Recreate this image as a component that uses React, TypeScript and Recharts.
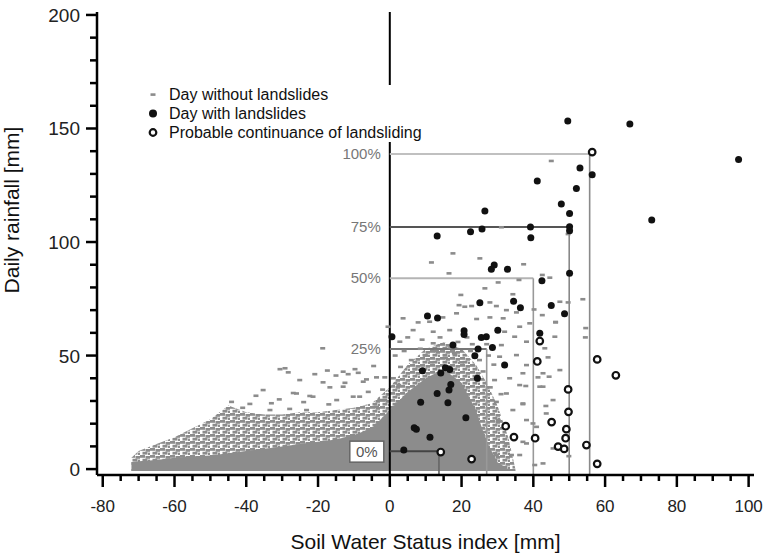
import React from "react";
import {
  ComposedChart,
  Area,
  Scatter,
  XAxis,
  YAxis,
  ReferenceLine,
  Legend,
} from "recharts";

const W = 769;
const H = 554;
const FONT = "'Liberation Sans', Arial, sans-serif";
const GRAY = "#8c8c8c";

// envelope of the dense cloud of days without landslides (x = SWSI, mm)
const cloudX = [-72, -70, -65, -60, -55, -50, -45, -40, -35, -30, -25, -20, -15, -10, -5, 0, 5, 10, 15, 20, 24, 27, 30, 33, 35];
const cloudSolidTop = [3, 3.5, 4, 5, 5.5, 6, 7, 8, 9, 10, 11, 12, 13, 15, 18, 26, 34, 40, 44, 38, 26, 12, 3, 0, 0];
const cloudSparseTop = [5, 8, 11, 14, 18, 22, 28, 25, 24, 24, 25, 25, 26, 27, 29, 36, 46, 53, 56, 53, 46, 38, 28, 14, 0];
const cloudBottom = -0.8;

// scattered days without landslides outside the dense cloud [SWSI, rainfall]
const noSlide: [number, number][] = [
  [-18.7, 53.2], [-30.6, 44], [-29.2, 44.4], [-28.3, 42.6], [-25.1, 39.2], [-20.9, 41.8], [-17.4, 43.4],
  [-15, 41.2], [-13, 42.9], [-11.6, 41.8], [-9.7, 44], [-8.8, 42.4], [-4.5, 45.4], [-1.4, 40.4], [-6.5, 39.5],
  [-3.7, 40.4], [-35.3, 34.8], [-37.3, 32.3], [-26.9, 33.5], [-26, 33.3], [-18.6, 38.2], [-16.7, 36],
  [-12.5, 38], [-7.4, 38.5], [-22.3, 32.2], [-30.8, 30.7], [-39, 28.7], [-44.1, 29.6], [-14.8, 30.4],
  [-10.2, 31.9], [-3.7, 27.4], [-1.4, 30.4], [-8.4, 31.9], [-21.4, 31.9], [-33.4, 26], [-27.9, 26.5],
  [-23.2, 26], [-2.8, 30.4], [-13, 36.3], [-33, 29], [-24, 29.5], [-17, 28.5], [-6, 34], [-41, 27],
  [45, 135.7], [31.1, 106.5], [49.7, 103.5], [17.6, 95], [11.6, 91], [25.1, 92.8], [16.5, 86.2], [37.3, 90.2],
  [30.2, 82.2], [36, 83.3], [44.6, 84.3], [42.5, 85.5], [26.5, 79.6], [19.8, 76.7], [34.3, 77], [47.4, 73.7],
  [49.7, 73.4], [53.8, 74.8], [40.2, 70.3], [42.5, 67.8], [46.2, 64.8], [46, 58.3], [19.3, 72.2], [20.9, 71.5],
  [22.8, 71.8], [27.9, 73.4], [29.7, 71.8], [32.5, 70], [3.7, 66.4], [7.9, 64.6], [11.1, 64.9], [14.8, 66.8],
  [18.6, 68.6], [24.2, 66.1], [27.9, 66.8], [31.6, 66.4], [35.3, 69], [-0.5, 62.7], [6.5, 61.2], [12.1, 60.5],
  [16.7, 61.2], [32, 60.5], [36.2, 62.7], [34.8, 58.3], [2.8, 56.1], [12.1, 55.4], [31.1, 54.6], [38.1, 56.1],
  [30.6, 49.5], [35.3, 50.2], [38.1, 45.8], [37.1, 42.2], [29.2, 39.2], [33.4, 40], [36.2, 37], [32.5, 33.3],
  [37.1, 28.9], [29.7, 29.6], [34.3, 26], [30.2, 21.6], [38.1, 21.6], [32.5, 11.3], [37.1, 12], [29.7, 6.2],
  [33.9, 6.2], [42.7, 36.3], [45.5, 30.4], [43.6, 24.5], [42.7, 2.5], [45.5, 9.1], [40.9, 18.6], [47.4, 43.6],
  [39, 64.2], [46.2, 64.6], [54.6, 62.1], [54.5, 58], [43.2, 53.2], [44.1, 49.2], [41.3, 40.4], [44.4, 40.7],
  [42.7, 42.2], [41.8, 36.3], [43.5, 27.8], [37.1, 28.6], [37.9, 36.6], [39.9, 20.1], [38.1, 11.3], [36.2, 6.2],
  [40.4, 1.8], [49.9, 5.7],
  [1.5, 50], [4, 52], [6, 48], [8.5, 53], [10, 50], [13, 52], [15.5, 49], [18, 51], [20, 47], [22.5, 52],
  [25, 48], [27.5, 50], [29, 46], [3, 45], [7, 44], [11.5, 47], [19, 56], [23, 55], [5, 58], [9, 57],
  [27, 55], [14, 58], [1, 40], [2.5, 37], [26, 43], [28, 36], [31, 33], [-2, 35], [21.5, 58], [17, 53.5],
];

// days with landslides
const slide: [number, number][] = [
  [49.6, 153.3], [66.9, 152], [97.2, 136.3], [56.4, 129.6], [53, 132.6], [41.1, 126.9], [52, 123.6],
  [47.8, 116.7], [50.1, 112.6], [26.5, 113.7], [73, 109.7], [25.7, 105.7], [22.5, 104.5], [39.2, 106.6],
  [39.3, 101.9], [13.2, 102.6], [50.1, 106.7], [50.1, 105], [50.1, 86.2], [29.1, 89.9], [28.3, 88],
  [32.8, 88], [42.4, 83], [45, 72.1], [48.7, 68.4], [25.1, 73.3], [34.5, 73.9], [36.4, 71.1], [10.5, 67.4],
  [13.3, 66.5], [0.6, 58.3], [20.7, 60.9], [20.7, 59.3], [30.1, 61.1], [25.5, 58], [26.9, 58.3], [17.6, 54.6],
  [24.6, 52.9], [28.6, 53.6], [41.8, 59.8], [23.7, 49.9], [32, 45.8], [9.1, 43.3], [14.2, 42.3], [15.5, 44.6],
  [16.7, 43.9], [24.4, 40], [17, 37.3], [16.5, 34.8], [13.2, 33.3], [8.6, 29.4], [16.2, 29.2], [21.2, 22.6],
  [6.8, 18.2], [7.4, 17.5], [11.2, 14], [3.9, 8.4],
];

// probable continuance of landsliding
const continuance: [number, number][] = [
  [56.4, 139.6], [41.8, 56.4], [41.1, 47.4], [57.8, 48.3], [63, 41.3], [49.7, 35.1], [49.8, 25.2],
  [45.1, 20.7], [32.3, 18.9], [49.2, 17.6], [34.6, 14.1], [40.5, 13.6], [49, 13.6], [54.8, 10.6],
  [46.9, 9.9], [48.6, 8.9], [14.2, 7.5], [22.8, 4.4], [57.8, 2.3],
];

// threshold boxes
const pctLabels = ["0%", "25%", "50%", "75%", "100%"];
const pctRain = [7.9, 52.9, 84, 106.6, 138.8];
const pctSwsi = [13.7, 27, 40, 50, 55.7];

const xMajor = [-80, -60, -40, -20, 0, 20, 40, 60, 80, 100];
const yMajor = [0, 50, 100, 150, 200];

const xDomain: [number, number] = [-81.6, 101.5];
const yDomain: [number, number] = [-2.6, 201.3];

const xTicks: number[] = [];
for (let t = -80; t <= 100; t += 5) xTicks.push(t);
const yTicks: number[] = [];
for (let t = 0; t <= 200; t += 10) yTicks.push(t);

const hStroke = ["#444", "#777", "#b4b4b4", "#555", "#c0c0c0"];
const vStroke = ["#666", "#999", "#999", "#888", "#8a8a8a"];

const cloudData = cloudX.map((x, i) => ({
  x,
  solid: [cloudBottom, cloudSolidTop[i]],
  sparse: [cloudBottom, cloudSparseTop[i]],
}));
const toXY = (pts: [number, number][]) => pts.map(([x, y]) => ({ x, y }));

const Dash = (p: any) => (
  <rect x={p.cx - 2.5} y={p.cy - 1.3} width={5} height={2.6} fill={GRAY} />
);
const Dot = (p: any) => <circle cx={p.cx} cy={p.cy} r={3.5} fill="#111" />;
const Ring = (p: any) => (
  <circle cx={p.cx} cy={p.cy} r={3.3} fill="#fff" stroke="#111" strokeWidth={2.2} />
);

const XTick = ({ x, y, payload }: any) => {
  const major = xMajor.includes(payload.value);
  return (
    <g>
      <line x1={x} x2={x} y1={y} y2={y + (major ? 12 : 6)} stroke="#000" strokeWidth={2.5} />
      {major && (
        <text x={x} y={y + 37} textAnchor="middle" fontSize={17} fill="#222" fontFamily={FONT}>
          {payload.value}
        </text>
      )}
    </g>
  );
};

const YTick = ({ x, y, payload }: any) => {
  const major = yMajor.includes(payload.value);
  return (
    <g>
      <line x1={x} x2={x - (major ? 11 : 7)} y1={y} y2={y} stroke="#000" strokeWidth={2.5} />
      {major && (
        <text x={x - 17} y={y + 7} textAnchor="end" fontSize={19} fill="#222" fontFamily={FONT}>
          {payload.value}
        </text>
      )}
    </g>
  );
};

const pctLabel = (i: number) => (props: any) => {
  const vb = props.viewBox;
  if (i === 0) {
    return (
      <g>
        <rect x={vb.x - 40} y={vb.y - 10} width={34} height={21} fill="#fff" stroke="#666" strokeWidth={1.5} />
        <text x={vb.x - 23} y={vb.y + 6} textAnchor="middle" fontSize={15} fill="#555" fontFamily={FONT}>
          {pctLabels[i]}
        </text>
      </g>
    );
  }
  return (
    <text x={vb.x - 9} y={vb.y + 5} textAnchor="end" fontSize={15} fill="#777" fontFamily={FONT}>
      {pctLabels[i]}
    </text>
  );
};

const legendRows = [
  { label: "Day without landslides", kind: "dash" },
  { label: "Day with landslides", kind: "dot" },
  { label: "Probable continuance of landsliding", kind: "ring" },
];

const LegendBox = () => (
  <div style={{ background: "#fff", fontFamily: FONT, fontSize: 16, color: "#111" }}>
    {legendRows.map((r) => (
      <div key={r.label} style={{ display: "flex", alignItems: "center", height: 19, whiteSpace: "nowrap" }}>
        <svg width={24} height={19}>
          {r.kind === "dash" && <rect x={5.5} y={8.3} width={5} height={2.6} fill={GRAY} />}
          {r.kind === "dot" && <circle cx={8} cy={9.5} r={4} fill="#111" />}
          {r.kind === "ring" && <circle cx={8} cy={9.5} r={3.3} fill="#fff" stroke="#111" strokeWidth={2.2} />}
        </svg>
        <span>{r.label}</span>
      </div>
    ))}
  </div>
);

export default function App() {
  return (
    <div
      style={{
        position: "absolute",
        left: 0,
        top: 0,
        width: W,
        height: H,
        background: "#fff",
        fontFamily: FONT,
      }}
    >
      <ComposedChart
        width={W}
        height={H}
        data={cloudData}
        margin={{ top: 12, right: 15, bottom: 0, left: 0 }}
        style={{ fontFamily: FONT }}
      >
        <defs>
          <pattern id="stipple" width={10} height={7} patternUnits="userSpaceOnUse">
            <rect x={0} y={0} width={5} height={2.8} fill={GRAY} />
            <rect x={5.5} y={1} width={4.5} height={2.8} fill={GRAY} />
            <rect x={2.5} y={3.8} width={5} height={2.8} fill={GRAY} />
            <rect x={8} y={4.6} width={2} height={2.4} fill={GRAY} />
          </pattern>
        </defs>
        <XAxis
          type="number"
          dataKey="x"
          domain={xDomain}
          allowDataOverflow
          ticks={xTicks}
          interval={0}
          height={79}
          tickSize={0}
          tickMargin={0}
          tickLine={false}
          tick={<XTick />}
          axisLine={{ stroke: "#000", strokeWidth: 2.5 }}
          label={{
            content: (p: any) => (
              <text
                x={p.viewBox.x + p.viewBox.width / 2}
                y={p.viewBox.y + 74}
                textAnchor="middle"
                fontSize={21}
                fill="#111"
                fontFamily={FONT}
              >
                Soil Water Status index [mm]
              </text>
            ),
          }}
        />
        <YAxis
          type="number"
          dataKey="y"
          domain={yDomain}
          allowDataOverflow
          ticks={yTicks}
          interval={0}
          width={97}
          tickSize={0}
          tickMargin={0}
          tickLine={false}
          tick={<YTick />}
          axisLine={{ stroke: "#000", strokeWidth: 2.5 }}
          label={{
            content: () => (
              <text
                x={19}
                y={210}
                transform="rotate(-90, 19, 210)"
                textAnchor="middle"
                fontSize={21}
                fill="#111"
                fontFamily={FONT}
              >
                Daily rainfall [mm]
              </text>
            ),
          }}
        />
        <Area
          type="linear"
          dataKey="sparse"
          stroke="none"
          fill="url(#stipple)"
          fillOpacity={1}
          isAnimationActive={false}
        />
        <Area
          type="linear"
          dataKey="solid"
          stroke="none"
          fill={GRAY}
          fillOpacity={1}
          isAnimationActive={false}
        />
        <Scatter data={toXY(noSlide)} shape={Dash} isAnimationActive={false} />
        <ReferenceLine x={0} stroke="#000" strokeWidth={2} />
        {pctLabels.map((l, i) => (
          <ReferenceLine
            key={"h" + l}
            segment={[
              { x: 0, y: pctRain[i] },
              { x: pctSwsi[i], y: pctRain[i] },
            ]}
            stroke={hStroke[i]}
            strokeWidth={2}
            label={{ content: pctLabel(i) }}
          />
        ))}
        {pctLabels.map((l, i) => (
          <ReferenceLine
            key={"v" + l}
            segment={[
              { x: pctSwsi[i], y: pctRain[i] },
              { x: pctSwsi[i], y: yDomain[0] },
            ]}
            stroke={vStroke[i]}
            strokeWidth={1.6}
          />
        ))}
        <Scatter data={toXY(slide)} shape={Dot} isAnimationActive={false} />
        <Scatter data={toXY(continuance)} shape={Ring} isAnimationActive={false} />
        <Legend
          layout="vertical"
          align="center"
          verticalAlign="middle"
          content={() => <LegendBox />}
          wrapperStyle={{ left: 145, top: 85, width: 285, margin: 0 }}
        />
      </ComposedChart>
    </div>
  );
}
